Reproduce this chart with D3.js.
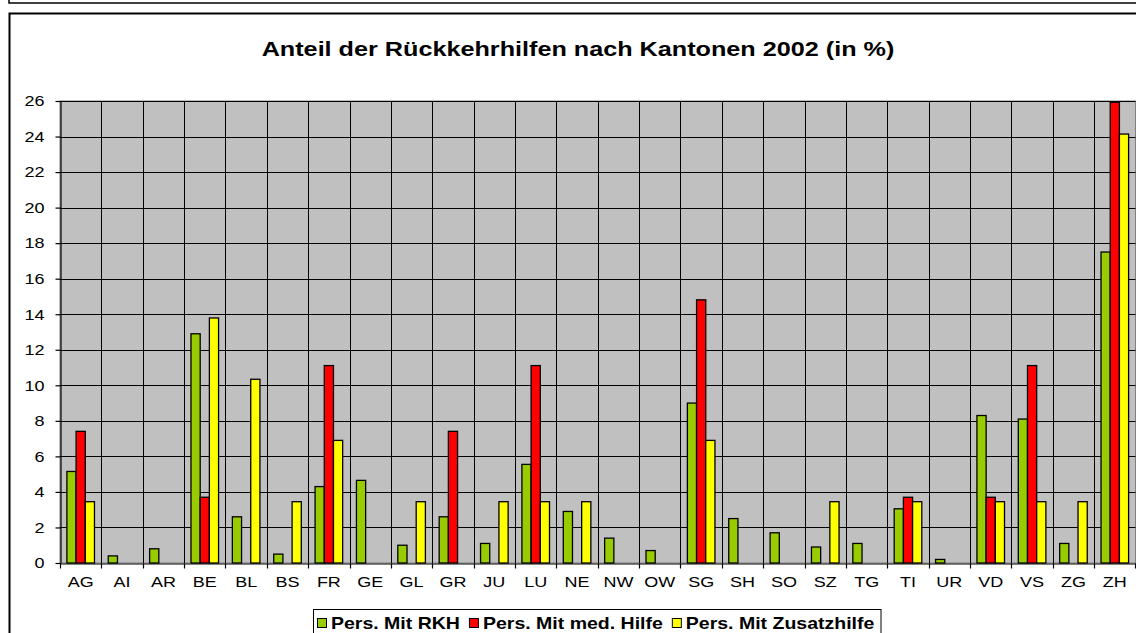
<!DOCTYPE html>
<html>
<head>
<meta charset="utf-8">
<script src="https://cdn.jsdelivr.net/npm/d3@7"></script>
<style>
  body{margin:0;background:#fff;}
  svg{display:block;font-family:"Liberation Sans",Arial,sans-serif;}
</style>
</head>
<body>
<div id="chart"></div>
<script>
// Werte in % je Kanton
const cantons=["AG","AI","AR","BE","BL","BS","FR","GE","GL","GR","JU","LU","NE","NW","OW","SG","SH","SO","SZ","TG","TI","UR","VD","VS","ZG","ZH"];
const rkhValues=[5.15,0.4,0.8,12.9,2.6,0.5,4.3,4.65,1.0,2.6,1.1,5.55,2.9,1.4,0.7,9.0,2.5,1.7,0.9,1.1,3.05,0.2,8.3,8.1,1.1,17.5];
const medValues=[7.41,0,0,3.7,0,0,11.11,0,0,7.41,0,11.11,0,0,0,14.81,0,0,0,0,3.7,0,3.7,11.11,0,25.93];
const zusatzValues=[3.45,0,0,13.79,10.34,3.45,6.9,0,3.45,0,3.45,3.45,3.45,0,0,6.9,0,0,3.45,0,3.45,0,3.45,3.45,3.45,24.14];
const seriesNames=["Pers. Mit RKH","Pers. Mit med. Hilfe","Pers. Mit Zusatzhilfe"];
const yTicks=[0,2,4,6,8,10,12,14,16,18,20,22,24,26];
const titleText="Anteil der Rückkehrhilfen nach Kantonen 2002 (in %)";

const colors=["#99CC00","#FF0000","#FFFF00"];
const width=1136;
const height=633;
const plotLeft=60;
const plotRight=1135.5;
const plotTop=101;
const plotBottom=563;
const stretch=1.2; // Schrift im Original ist breit gezogen

const svg=d3.select("#chart").append("svg")
  .attr("width",width)
  .attr("height",height);

// Rahmen (Rest des vorherigen Objekts oben + eigener Rahmen)
svg.append("path")
  .attr("d","M9,0 V3 H"+width)
  .attr("fill","none").attr("stroke","#000").attr("stroke-width",1.5);
svg.append("rect")
  .attr("x",9.5).attr("y",13.5)
  .attr("width",width).attr("height",height)
  .attr("fill","#fff").attr("stroke","#000").attr("stroke-width",2);

svg.append("text")
  .attr("transform","translate(578,56) scale("+stretch+",1)")
  .attr("text-anchor","middle")
  .style("font-size","21px").style("font-weight","bold")
  .text(titleText);

const x=d3.scaleBand().domain(cantons).range([plotLeft,plotRight]);
const xSub=d3.scaleBand().domain([0,1,2]).range([0,x.bandwidth()])
  .paddingInner(0).paddingOuter(0.75);
const y=d3.scaleLinear().domain([0,26]).range([plotBottom,plotTop]);

svg.append("rect")
  .attr("x",plotLeft).attr("y",plotTop)
  .attr("width",plotRight-plotLeft).attr("height",plotBottom-plotTop)
  .attr("fill","#C0C0C0").attr("stroke","#808080").attr("stroke-width",1);

// Gitterlinien
svg.append("g")
  .selectAll("line")
  .data(yTicks.filter((d)=>d>0))
  .enter()
  .append("line")
  .attr("x1",plotLeft).attr("x2",plotRight)
  .attr("y1",(d)=>Math.round(y(d))+0.5).attr("y2",(d)=>Math.round(y(d))+0.5)
  .attr("stroke","#000").attr("stroke-width",1);

svg.append("g")
  .selectAll("line")
  .data(cantons.slice(1))
  .enter()
  .append("line")
  .attr("x1",(d)=>Math.round(x(d))+0.5).attr("x2",(d)=>Math.round(x(d))+0.5)
  .attr("y1",plotTop).attr("y2",plotBottom)
  .attr("stroke","#000").attr("stroke-width",1);

// Balken
const allSeries=[rkhValues,medValues,zusatzValues];
allSeries.forEach((values,s)=>{
  svg.append("g")
    .selectAll("rect")
    .data(cantons.map((c,i)=>[c,values[i]]).filter((d)=>d[1]>0))
    .enter()
    .append("rect")
    .attr("x",(d)=>x(d[0])+xSub(s))
    .attr("y",(d)=>y(d[1]))
    .attr("width",xSub.bandwidth())
    .attr("height",(d)=>plotBottom-y(d[1]))
    .attr("fill",colors[s])
    .attr("stroke","#000")
    .attr("stroke-width",1.3);
});

// Achsen
const yAxis=svg.append("g")
  .attr("transform","translate("+(plotLeft+0.5)+",0)")
  .call(d3.axisLeft(y).tickValues(yTicks).tickSize(5).tickSizeOuter(0));
yAxis.selectAll("text")
  .attr("x",-16/stretch)
  .attr("transform","scale("+stretch+",1)")
  .style("font-size","15px").attr("fill","#000").style("font-family","Liberation Sans, Arial, sans-serif");
yAxis.selectAll("line,path").attr("stroke","#000").attr("stroke-width",1.2);

const xAxis=svg.append("g")
  .attr("transform","translate(0,"+(plotBottom+0.5)+")")
  .call(d3.axisBottom(x).tickSize(0).tickSizeOuter(0).tickPadding(13));
xAxis.selectAll("text")
  .attr("transform","scale("+stretch+",1)")
  .style("font-size","15px").attr("fill","#000").style("font-family","Liberation Sans, Arial, sans-serif");
xAxis.select("path").attr("stroke","#000").attr("stroke-width",1.2);
xAxis.selectAll(".boundary")
  .data(cantons.concat(["end"]))
  .enter()
  .append("line")
  .attr("class","boundary")
  .attr("x1",(d)=>d==="end"?plotRight:Math.round(x(d))+0.5)
  .attr("x2",(d)=>d==="end"?plotRight:Math.round(x(d))+0.5)
  .attr("y1",0).attr("y2",5)
  .attr("stroke","#000").attr("stroke-width",1.2);

// Legende: Einträge nacheinander, Schrift ebenfalls gestreckt
const legendStretch=1.22;
const legend=svg.append("g");
legend.append("rect")
  .attr("x",313.5).attr("y",609.5)
  .attr("width",567.5).attr("height",40)
  .attr("fill","#fff").attr("stroke","#000").attr("stroke-width",1);
let legendPos=317;
seriesNames.forEach((name,i)=>{
  legend.append("rect")
    .attr("x",legendPos+0.5).attr("y",618.5)
    .attr("width",9).attr("height",9)
    .attr("fill",colors[i]).attr("stroke","#000").attr("stroke-width",1);
  const label=legend.append("text")
    .attr("transform","translate("+(legendPos+14)+",629) scale("+legendStretch+",1)")
    .style("font-size","16px").style("font-weight","bold")
    .text(name);
  legendPos+=14+label.node().getComputedTextLength()*legendStretch+9;
});
</script>
</body>
</html>
